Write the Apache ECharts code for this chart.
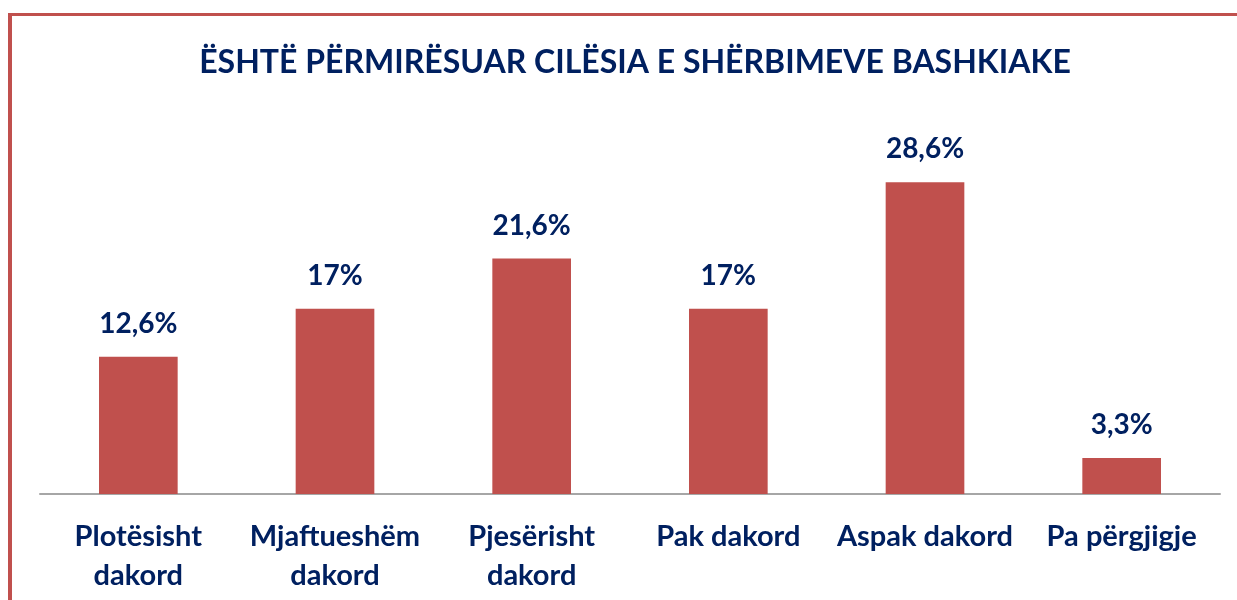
<!DOCTYPE html>
<html><head><meta charset="utf-8">
<script src="https://cdn.jsdelivr.net/npm/echarts@6/dist/echarts.min.js"></script>
<style>html,body{margin:0;padding:0;background:#fff}#c{width:1237px;height:600px}</style>
</head><body><div id="c"></div>
<script>
var titleText = 'ËSHTË PËRMIRËSUAR CILËSIA E SHËRBIMEVE BASHKIAKE';
var categories = ['Plotësisht\ndakord', 'Mjaftueshëm\ndakord', 'Pjesërisht\ndakord', 'Pak dakord', 'Aspak dakord', 'Pa përgjigje'];
var values = [12.6, 17, 21.6, 17, 28.6, 3.3];
var valueLabels = ['12,6%', '17%', '21,6%', '17%', '28,6%', '3,3%'];

var navy = '#002060';
var red = '#c0504d';
var chart = echarts.init(document.getElementById('c'));
chart.setOption({
  backgroundColor: '#fff',
  animation: false,
  title: {
    text: titleText, left: 630, textAlign: 'center', top: 39,
    textStyle: { fontFamily: 'Lato', fontWeight: 'bold', fontSize: 32, lineHeight: 38, color: navy }
  },
  grid: { left: 40, right: 17, top: 112.5, bottom: 106 },
  xAxis: {
    type: 'category', data: categories,
    axisLine: { lineStyle: { color: '#a6a6a6', width: 2 } },
    axisTick: { show: false },
    axisLabel: { interval: 0, margin: 23, fontFamily: 'Lato', fontWeight: 'bold', fontSize: 29, lineHeight: 39, color: navy }
  },
  yAxis: { type: 'value', min: 0, max: 35, show: false, splitLine: { show: false } },
  series: [{
    type: 'bar', data: values, barWidth: '40%',
    itemStyle: { color: red },
    label: {
      show: true, position: 'top', distance: 19,
      fontFamily: 'Lato', fontWeight: 'bold', fontSize: 28, color: navy,
      formatter: function (p) { return valueLabels[p.dataIndex]; }
    }
  }],
  graphic: [
    { type: 'rect', shape: { x: 8, y: 13, width: 4, height: 600 }, style: { fill: red } },
    { type: 'rect', shape: { x: 8, y: 13, width: 1229, height: 3 }, style: { fill: red } }
  ]
});
</script></body></html>
